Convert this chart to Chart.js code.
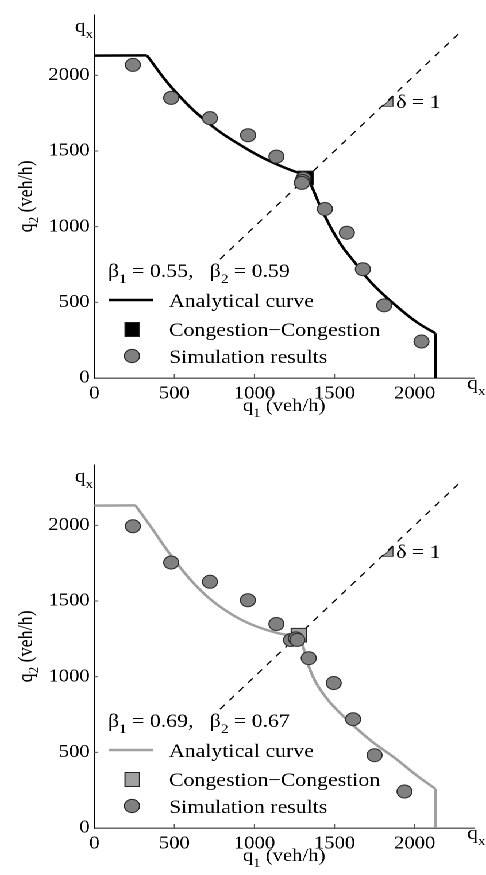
<!DOCTYPE html>
<html>
<head>
<meta charset="utf-8">
<script src="https://cdn.jsdelivr.net/npm/chart.js@4.4.1/dist/chart.umd.min.js"></script>
<style>
  html, body { margin: 0; padding: 0; background: #fff; overflow: hidden; }
  /* the figure is a little wider than tall in its glyphs, so stretch horizontally */
  .wrap { width: 423px; transform: scaleX(1.149); transform-origin: 0 0; }
  canvas { display: block; }
</style>
</head>
<body>
<div class="wrap">
  <canvas id="topChart" width="423" height="450"></canvas>
  <canvas id="bottomChart" width="423" height="425"></canvas>
</div>
<script>
// ---- data (veh/h) ----
const qx = 2130;
const xTicks = [0, 500, 1000, 1500, 2000];
const yTicks = [0, 500, 1000, 1500, 2000];
const diagonal = [[785, 785], [2300, 2300]];
const slopeTriangle = [[1800, 1795], [1865, 1795], [1865, 1858], [1800, 1795]];

const topBeta = ["0.55", "0.59"];
const topCurveUpper = [[328, 2132], [490, 1911], [712, 1685], [955, 1512], [1157, 1404], [1319, 1339]];
const topCurveLower = [[1319, 1339], [1349, 1285], [1430, 1091], [1531, 896], [1632, 756], [1733, 626], [1875, 486], [2016, 367], [2130, 296]];
const topCongestion = [[1319, 1322]];
const topSimulation = [[241, 2069], [480, 1851], [722, 1717], [960, 1604], [1137, 1463], [1306, 1318], [1300, 1302], [1296, 1289],
  [1440, 1117], [1577, 960], [1677, 719], [1810, 480], [2043, 241]];

const bottomBeta = ["0.69", "0.67"];
const bottomCurveUpper = [[257, 2132], [348, 1998], [470, 1814], [591, 1652], [712, 1523], [854, 1414], [995, 1339], [1157, 1285], [1238, 1274], [1280, 1270]];
const bottomCurveLower = [[1280, 1270], [1298, 1220], [1339, 1069], [1390, 950], [1471, 831], [1592, 702], [1733, 572], [1875, 464], [2016, 345], [2130, 259]];
const bottomCongestion = [[1278, 1274]];
const bottomSimulation = [[241, 1994], [480, 1754], [722, 1627], [959, 1505], [1137, 1348], [1228, 1242], [1258, 1253], [1268, 1243],
  [1339, 1122], [1495, 958], [1616, 719], [1750, 481], [1937, 241]];

// ---- drawing helpers ----
const SX = 486 / 423;
const SERIF = '"Liberation Serif", "Times New Roman", serif';
const dx = (v) => v / SX;
const pts = (arr) => arr.map(([x, y]) => ({ x, y }));

function piecesWidth(ctx, pieces, size = 19) {
  let w = 0;
  pieces.forEach(([t, sub]) => {
    ctx.font = (sub ? Math.round(size * 0.7) : size) + "px " + SERIF;
    w += ctx.measureText(t).width;
  });
  return w;
}

// text with subscripts: pieces = [[text, isSub], ...]
function drawPieces(ctx, pieces, x, y, size = 19) {
  pieces.forEach(([t, sub]) => {
    ctx.font = (sub ? Math.round(size * 0.7) : size) + "px " + SERIF;
    ctx.fillText(t, x, sub ? y + size * 0.32 : y);
    x += ctx.measureText(t).width;
  });
}

const decor = {
  id: "decor",
  afterDraw(chart, args, opts) {
    const ctx = chart.ctx;
    const { left, right, top, bottom } = chart.chartArea;
    const xs = chart.scales.x, ys = chart.scales.y;
    ctx.save();

    // inward tick marks
    ctx.strokeStyle = "#555";
    ctx.lineWidth = 1;
    xTicks.slice(1).forEach((v) => {
      const px = xs.getPixelForValue(v);
      ctx.beginPath(); ctx.moveTo(px, bottom); ctx.lineTo(px, bottom - 4); ctx.stroke();
    });
    yTicks.slice(1).forEach((v) => {
      const py = ys.getPixelForValue(v);
      ctx.beginPath(); ctx.moveTo(left, py); ctx.lineTo(left + 3.5, py); ctx.stroke();
    });

    ctx.fillStyle = "#000";
    ctx.textAlign = "left";
    ctx.textBaseline = "alphabetic";

    const qxLabel = [["q"], ["x", true]];
    drawPieces(ctx, qxLabel, left - 1 - piecesWidth(ctx, qxLabel), top + 17);
    drawPieces(ctx, qxLabel, dx(467), bottom + 11);

    const xTitle = [["q"], ["1", true], [" (veh/h)"]];
    drawPieces(ctx, xTitle, (left + right) / 2 - piecesWidth(ctx, xTitle, 18) / 2, bottom + 33, 18);

    ctx.save();
    ctx.translate(dx(32), (top + bottom) / 2);
    ctx.rotate(-Math.PI / 2);
    const yTitle = [["q"], ["2", true], [" (veh/h)"]];
    drawPieces(ctx, yTitle, -piecesWidth(ctx, yTitle, 18) / 2, 0, 18);
    ctx.restore();

    drawPieces(ctx, [["δ = 1"]], xs.getPixelForValue(1885), ys.getPixelForValue(1784));

    // legend
    drawPieces(ctx, [["β"], ["1", true], [" = " + opts.beta[0] + ",   β"], ["2", true], [" = " + opts.beta[1]]], dx(108), 277);

    ctx.strokeStyle = opts.curveColor;
    ctx.lineWidth = 2.5;
    ctx.beginPath(); ctx.moveTo(dx(109), 300); ctx.lineTo(dx(153), 300); ctx.stroke();
    drawPieces(ctx, [["Analytical curve"]], dx(169), 307);

    ctx.fillStyle = opts.squareColor;
    ctx.fillRect(dx(125), 322.5, dx(14.5), 14);
    ctx.strokeStyle = "#222";
    ctx.lineWidth = 1;
    ctx.strokeRect(dx(125), 322.5, dx(14.5), 14);
    ctx.fillStyle = "#000";
    drawPieces(ctx, [["Congestion\u2212Congestion"]], dx(169), 336);

    ctx.fillStyle = "#808080";
    ctx.beginPath(); ctx.arc(dx(132), 356, 6.6, 0, Math.PI * 2); ctx.fill(); ctx.stroke();
    ctx.fillStyle = "#000";
    drawPieces(ctx, [["Simulation results"]], dx(169), 363);

    ctx.restore();
  }
};

function makeChart(id, beta, curveUpper, curveLower, congestion, simulation, curveColor, squareColor) {
  const canvas = document.getElementById(id);
  const axisHeight = canvas.height - 378;
  const start = curveUpper[0];
  const end = curveLower[curveLower.length - 1];

  new Chart(canvas, {
    type: "scatter",
    data: {
      datasets: [
        {
          data: pts(simulation), order: 1,
          pointRadius: 6.5, pointBackgroundColor: "#808080", pointBorderColor: "#2a2a2a", pointBorderWidth: 1
        },
        {
          data: pts(congestion), order: 2, pointStyle: "rect",
          pointRadius: 9.6, pointBackgroundColor: squareColor, pointBorderColor: "#222", pointBorderWidth: 1
        },
        { data: pts([[0, qx], start]), order: 3, showLine: true, pointRadius: 0, borderColor: curveColor, borderWidth: 2.5 },
        { data: pts(curveUpper), order: 3, showLine: true, tension: 0.4, pointRadius: 0, borderColor: curveColor, borderWidth: 2.5 },
        { data: pts(curveLower), order: 3, showLine: true, tension: 0.4, pointRadius: 0, borderColor: curveColor, borderWidth: 2.5 },
        { data: pts([end, [qx, 0]]), order: 3, showLine: true, pointRadius: 0, borderColor: curveColor, borderWidth: 2.5 },
        { data: pts(diagonal), order: 4, showLine: true, pointRadius: 0, borderColor: "#000", borderWidth: 1.2, borderDash: [6, 6] },
        {
          data: pts(slopeTriangle), order: 5, showLine: true, pointRadius: 0,
          borderColor: "#333", borderWidth: 0.8, fill: "shape", backgroundColor: "#9a9a9a"
        }
      ]
    },
    options: {
      responsive: false,
      animation: false,
      devicePixelRatio: 2,
      layout: { padding: { top: 8, right: 1, left: 0, bottom: 0 } },
      scales: {
        x: {
          type: "linear", min: 0, max: 2370,
          afterFit: (s) => { s.height = axisHeight; },
          afterBuildTicks: (s) => { s.ticks = xTicks.map((v) => ({ value: v })); },
          grid: { drawOnChartArea: false, drawTicks: false },
          border: { color: "#666", width: 1.5 },
          ticks: { color: "#000", padding: 5, maxRotation: 0, font: { family: SERIF, size: 18 }, callback: (v) => String(v) }
        },
        y: {
          type: "linear", min: 0, max: 2400,
          afterFit: (s) => { s.width = dx(94.3); },
          afterBuildTicks: (s) => { s.ticks = yTicks.map((v) => ({ value: v })); },
          grid: { drawOnChartArea: false, drawTicks: false },
          border: { color: "#000", width: 1 },
          ticks: { color: "#000", padding: 4, font: { family: SERIF, size: 18 }, callback: (v) => String(v) }
        }
      },
      plugins: {
        legend: { display: false },
        tooltip: { enabled: false },
        decor: { beta, curveColor, squareColor }
      }
    },
    plugins: [decor]
  });
}

makeChart("topChart", topBeta, topCurveUpper, topCurveLower, topCongestion, topSimulation, "#000", "#000");
makeChart("bottomChart", bottomBeta, bottomCurveUpper, bottomCurveLower, bottomCongestion, bottomSimulation, "#a0a0a0", "#a0a0a0");
</script>
</body>
</html>
